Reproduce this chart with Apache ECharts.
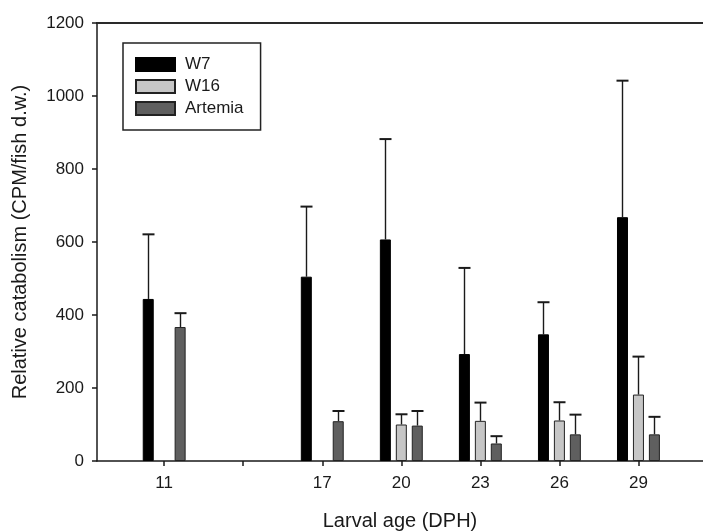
<!DOCTYPE html>
<html>
<head>
<meta charset="utf-8">
<script src="https://cdn.jsdelivr.net/npm/echarts@6/dist/echarts.min.js"></script>
<style>
html,body{margin:0;padding:0;background:#fff;}
#chart{width:703px;height:531px;}
</style>
</head>
<body>
<div id="chart"></div>
<script>
// ---- data ----
const days = [11, 17, 20, 23, 26, 29];
const tickDays = [11, 14, 17, 20, 23, 26, 29];
const labelDays = [11, 17, 20, 23, 26, 29];
const w7Mean = [444, 505, 607, 293, 347, 668];
const w7SD = [177, 192, 275, 236, 88, 374];
const w16Mean = [null, null, 100, 110, 111, 182];
const w16SD = [null, null, 28, 50, 50, 104];
const artemiaMean = [367, 109, 97, 48, 73, 73];
const artemiaSD = [38, 28, 40, 20, 54, 48];
const yTicks = [0, 200, 400, 600, 800, 1000, 1200];

// ---- styling constants ----
const BAR_W = 11;
const GAP = 0.45;
const STEP = BAR_W * (1 + GAP);
const FONT = '"Liberation Sans", Arial, sans-serif';
const INK = '#1a1a1a';

function pairs(mean) {
  const out = [];
  days.forEach((d, i) => { if (mean[i] != null) out.push([d, mean[i]]); });
  return out;
}
function errPairs(mean, sd) {
  const out = [];
  days.forEach((d, i) => { if (mean[i] != null) out.push([d, mean[i], sd[i]]); });
  return out;
}
function errSeries(name, mean, sd, slot) {
  const offset = (slot - 1) * STEP;
  return {
    type: 'custom',
    name: name + ' SD',
    silent: true,
    z: 1,
    data: errPairs(mean, sd),
    encode: { x: 0, y: 1 },
    renderItem: function (params, api) {
      const x = api.value(0), y = api.value(1), e = api.value(2);
      const base = api.coord([x, y]);
      const top = api.coord([x, y + e]);
      const cx = Math.round(base[0] + offset) + 0.5;
      const st = { stroke: INK, lineWidth: 1.4 };
      return {
        type: 'group',
        children: [
          { type: 'line', shape: { x1: cx, y1: base[1], x2: cx, y2: top[1] }, style: st },
          { type: 'line', shape: { x1: cx - 6, y1: top[1], x2: cx + 6, y2: top[1] }, style: { stroke: INK, lineWidth: 2 } }
        ]
      };
    }
  };
}

const chart = echarts.init(document.getElementById('chart'), null, { renderer: 'canvas' });
chart.setOption({
  animation: false,
  backgroundColor: '#fff',
  textStyle: { fontFamily: FONT },
  grid: { left: 97, right: 0, top: 23, bottom: 70, containLabel: false, outerBoundsMode: 'none' },
  legend: {
    data: ['W7', 'W16', 'Artemia'],
    orient: 'vertical',
    left: 123, top: 43,
    padding: [13, 17, 13, 12],
    itemWidth: 39, itemHeight: 13, itemGap: 5,
    borderColor: '#222', borderWidth: 1.5,
    icon: 'rect',
    textStyle: { fontSize: 17, color: INK, fontFamily: FONT, padding: [0, 0, 0, 5] }
  },
  xAxis: [{
    type: 'value',
    min: 8.45, max: 31.45,
    name: 'Larval age (DPH)',
    nameLocation: 'middle',
    nameGap: 50,
    nameTextStyle: { fontSize: 20, color: INK, fontFamily: FONT },
    splitLine: { show: false },
    axisLine: { show: true, onZero: false, lineStyle: { color: INK, width: 1.5 } },
    axisTick: { show: true, inside: false, length: 5, customValues: tickDays, lineStyle: { color: INK, width: 1.5 } },
    axisLabel: { customValues: labelDays, fontSize: 17, color: INK, margin: 14, fontFamily: FONT }
  }, {
    type: 'value',
    position: 'top',
    min: 8.45, max: 31.45,
    splitLine: { show: false },
    axisLine: { show: true, onZero: false, lineStyle: { color: '#2a2a2a', width: 2 } },
    axisTick: { show: false },
    axisLabel: { show: false }
  }],
  yAxis: {
    type: 'value',
    min: 0, max: 1200, interval: 200,
    name: 'Relative catabolism (CPM/fish d.w.)',
    nameLocation: 'middle',
    nameGap: 67,
    nameTextStyle: { fontSize: 20, color: INK, fontFamily: FONT },
    splitLine: { show: false },
    axisLine: { show: true, lineStyle: { color: INK, width: 1.5 } },
    axisTick: { show: true, inside: false, length: 5, lineStyle: { color: INK, width: 1.5 } },
    axisLabel: { fontSize: 17, color: INK, margin: 13, fontFamily: FONT,
      formatter: v => yTicks.indexOf(v) >= 0 ? String(v) : '' }
  },
  series: [
    { type: 'bar', name: 'W7', data: pairs(w7Mean), barWidth: BAR_W, barGap: (GAP * 100) + '%', z: 2,
      itemStyle: { color: '#000000', borderColor: '#000000', borderWidth: 1 } },
    { type: 'bar', name: 'W16', data: pairs(w16Mean), barWidth: BAR_W, barGap: (GAP * 100) + '%', z: 2,
      itemStyle: { color: '#c6c6c6', borderColor: '#222222', borderWidth: 1 } },
    { type: 'bar', name: 'Artemia', data: pairs(artemiaMean), barWidth: BAR_W, barGap: (GAP * 100) + '%', z: 2,
      itemStyle: { color: '#5f5f5f', borderColor: '#222222', borderWidth: 1 } },
    errSeries('W7', w7Mean, w7SD, 0),
    errSeries('W16', w16Mean, w16SD, 1),
    errSeries('Artemia', artemiaMean, artemiaSD, 2)
  ]
});
</script>
</body>
</html>
